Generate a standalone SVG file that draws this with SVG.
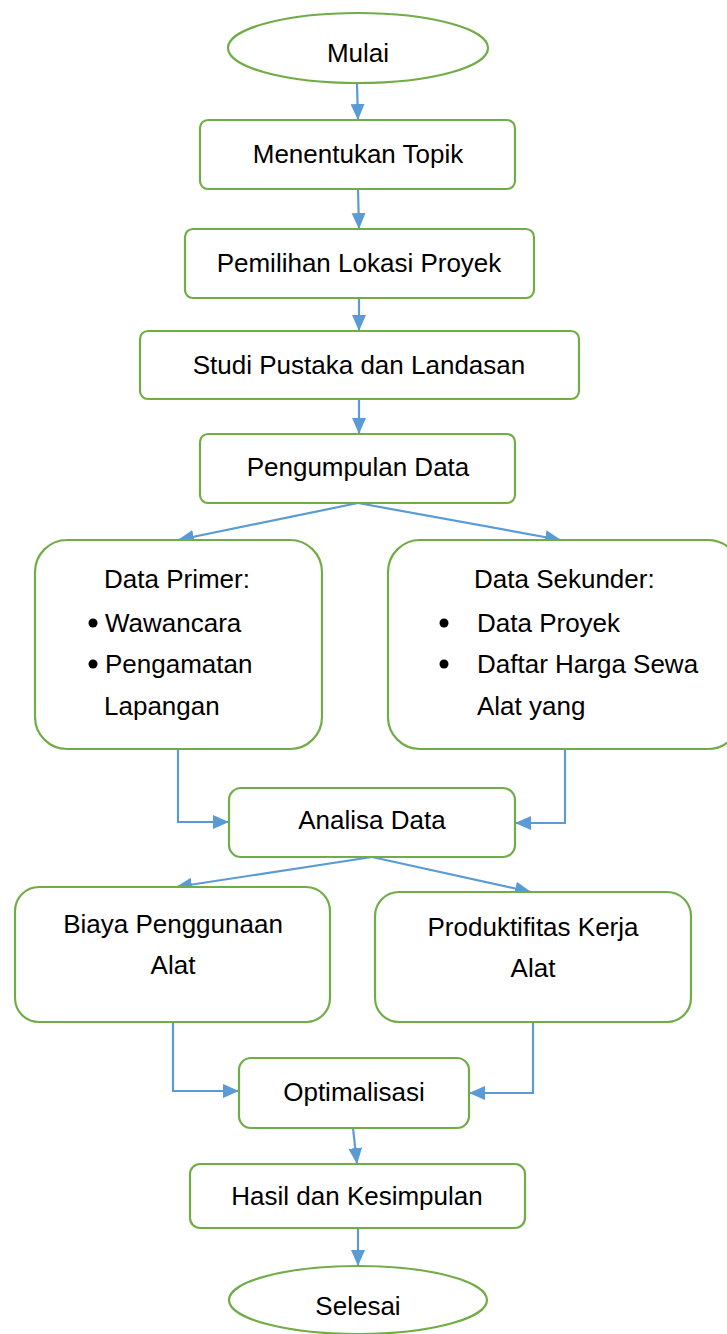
<svg xmlns="http://www.w3.org/2000/svg" width="727" height="1334" viewBox="0 0 727 1334">
<style>
.n{fill:#fff;stroke:#70AD47;stroke-width:2.2}
.t{font-family:"Liberation Sans",Arial,sans-serif;font-size:26px;fill:#000}
.c{text-anchor:middle}
.e{fill:none;stroke:#5B9BD5;stroke-width:2.2}
</style>
<defs>
<marker id="a" markerUnits="userSpaceOnUse" markerWidth="18" markerHeight="16" refX="16" refY="8" orient="auto">
<path d="M0,1 L16,8 L0,15 Z" fill="#5B9BD5"/>
</marker>
</defs>
<rect width="727" height="1334" fill="#fff"/>
<g id="connectors">
<path class="e" d="M357,84 L358,120" marker-end="url(#a)"/>
<path class="e" d="M358,189 L359,229" marker-end="url(#a)"/>
<path class="e" d="M359,298 L359,331" marker-end="url(#a)"/>
<path class="e" d="M359,399 L359,434" marker-end="url(#a)"/>
<path class="e" d="M358,503 L178,540" marker-end="url(#a)"/>
<path class="e" d="M358,503 L561,540" marker-end="url(#a)"/>
<path class="e" d="M178,749 L178,822 L229,822" marker-end="url(#a)"/>
<path class="e" d="M565,749 L565,823 L515,823" marker-end="url(#a)"/>
<path class="e" d="M372,857 L176,887" marker-end="url(#a)"/>
<path class="e" d="M372,857 L531,892" marker-end="url(#a)"/>
<path class="e" d="M173,1022 L173,1091 L239,1091" marker-end="url(#a)"/>
<path class="e" d="M533,1022 L533,1093 L469,1093" marker-end="url(#a)"/>
<path class="e" d="M353,1128 L357,1164" marker-end="url(#a)"/>
<path class="e" d="M358,1228 L358,1266" marker-end="url(#a)"/>
</g>
<g id="mulai"><ellipse class="n" cx="358" cy="48" rx="130" ry="35"/><text class="t c" x="358" y="62">Mulai</text></g>
<g id="topik"><rect class="n" x="200" y="120" width="315" height="69" rx="8"/><text class="t c" x="358" y="163">Menentukan Topik</text></g>
<g id="lokasi"><rect class="n" x="185" y="229" width="349" height="69" rx="8"/><text class="t c" x="359" y="272">Pemilihan Lokasi Proyek</text></g>
<g id="studi"><rect class="n" x="140" y="331" width="439" height="68" rx="8"/><text class="t c" x="359" y="374">Studi Pustaka dan Landasan</text></g>
<g id="pengumpulan"><rect class="n" x="200" y="434" width="315" height="69" rx="8"/><text class="t c" x="358" y="476">Pengumpulan Data</text></g>
<g id="primer"><rect class="n" x="35" y="540" width="287" height="209" rx="32"/>
<text class="t" x="104" y="588">Data Primer:</text>
<circle cx="93" cy="623" r="4.5"/><text class="t" x="105" y="632">Wawancara</text>
<circle cx="93" cy="664" r="4.5"/><text class="t" x="105" y="673">Pengamatan</text>
<text class="t" x="104" y="715">Lapangan</text></g>
<g id="sekunder"><rect class="n" x="388" y="540" width="352" height="209" rx="32"/>
<text class="t" x="474" y="588">Data Sekunder:</text>
<circle cx="444" cy="623" r="4.5"/><text class="t" x="477" y="632">Data Proyek</text>
<circle cx="444" cy="664" r="4.5"/><text class="t" x="477" y="673">Daftar Harga Sewa</text>
<text class="t" x="477" y="715">Alat yang</text></g>
<g id="analisa"><rect class="n" x="229" y="788" width="286" height="69" rx="12"/><text class="t c" x="372" y="829">Analisa Data</text></g>
<g id="biaya"><rect class="n" x="15" y="887" width="315" height="135" rx="24"/><text class="t c" x="173" y="933">Biaya Penggunaan</text><text class="t c" x="173" y="974">Alat</text></g>
<g id="produktifitas"><rect class="n" x="375" y="892" width="316" height="130" rx="24"/><text class="t c" x="533" y="936">Produktifitas Kerja</text><text class="t c" x="533" y="977">Alat</text></g>
<g id="optimalisasi"><rect class="n" x="239" y="1058" width="230" height="70" rx="12"/><text class="t c" x="354" y="1101">Optimalisasi</text></g>
<g id="hasil"><rect class="n" x="190" y="1164" width="335" height="64" rx="10"/><text class="t c" x="357" y="1205">Hasil dan Kesimpulan</text></g>
<g id="selesai"><ellipse class="n" cx="358" cy="1300" rx="129" ry="34"/><text class="t c" x="358" y="1315">Selesai</text></g>
</svg>
